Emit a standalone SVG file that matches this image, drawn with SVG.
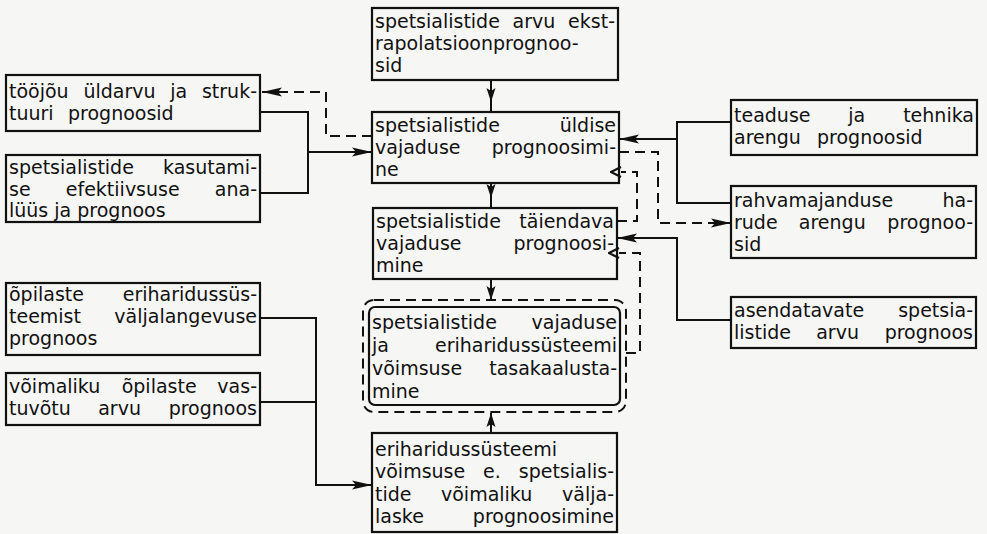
<svg xmlns="http://www.w3.org/2000/svg" width="987" height="534" viewBox="0 0 987 534">
<defs>
<style>
.bx{fill:none;stroke:#111;stroke-width:2.2}
.t{font-family:"DejaVu Sans","Liberation Sans",sans-serif;font-size:19px;fill:#111}
.e{text-anchor:end}
.c{fill:none;stroke:#111;stroke-width:2}
.d{fill:none;stroke:#111;stroke-width:2;stroke-dasharray:10 6}
</style>
<marker id="ar" viewBox="0 0 20 10" refX="20" refY="5" markerWidth="20" markerHeight="10" markerUnits="userSpaceOnUse" orient="auto">
<path d="M0,0.5 L20,5 L0,9.5 L4,5 Z" fill="#111"/>
</marker>
<marker id="am" viewBox="0 0 14 10" refX="14" refY="5" markerWidth="14" markerHeight="10" markerUnits="userSpaceOnUse" orient="auto">
<path d="M0,0.5 L14,5 L0,9.5 L3,5 Z" fill="#111"/>
</marker>
<marker id="op" viewBox="0 0 12 12" refX="1" refY="6" markerWidth="12" markerHeight="12" markerUnits="userSpaceOnUse" orient="auto">
<path d="M1,1 L11,6 L1,11" fill="none" stroke="#111" stroke-width="2.2"/>
</marker>
</defs>
<rect width="987" height="534" fill="#f6f6f4"/>

<g id="connectors">
<path class="c" d="M491,80 V102 V112" marker-mid="url(#am)"/>
<path class="c" d="M491,183 V198 V208" marker-mid="url(#am)"/>
<path class="c" d="M491,279 V300" marker-end="url(#am)"/>
<path class="c" d="M491,433 V413" marker-end="url(#am)"/>
<path class="c" d="M260,112 H308 V193 H260"/>
<path class="c" d="M308,152 H372" marker-end="url(#ar)"/>
<path class="c" d="M260,318 H316 V485 H372" marker-end="url(#ar)"/>
<path class="c" d="M260,402 H316"/>
<path class="c" d="M731,122 H677 V203 H731"/>
<path class="c" d="M677,139 H619" marker-end="url(#ar)"/>
<path class="c" d="M731,320 H677 V238 H617" marker-end="url(#ar)"/>
<path class="d" d="M372,136 H326 V92 H262" marker-end="url(#ar)"/>
<path class="d" d="M619,152 H658 V223 H731" marker-end="url(#ar)"/>
<path class="d" d="M617,221 H637 V172 H621" marker-end="url(#op)"/>
<path class="d" d="M626,353 H640 V253 H619" marker-end="url(#op)"/>
</g>

<g id="n-extrapol">
<rect class="bx" x="372" y="8" width="246" height="72"/>
<text class="t"><tspan x="375" y="28">spetsialistide</tspan><tspan x="512.6" y="28">arvu</tspan><tspan class="e" x="615" y="28">ekst-</tspan><tspan x="375" y="50">rapolatsioonprognoo-</tspan><tspan x="375" y="72">sid</tspan></text>
</g>

<g id="n-yldine">
<rect class="bx" x="372" y="112" width="247" height="71"/>
<text class="t"><tspan x="375" y="132">spetsialistide</tspan><tspan class="e" x="616" y="132">üldise</tspan><tspan x="375" y="154">vajaduse</tspan><tspan class="e" x="616" y="154">prognoosimi-</tspan><tspan x="375" y="176">ne</tspan></text>
</g>

<g id="n-taiendav">
<rect class="bx" x="373" y="208" width="244" height="71"/>
<text class="t"><tspan x="376" y="228">spetsialistide</tspan><tspan class="e" x="614" y="228">täiendava</tspan><tspan x="376" y="250">vajaduse</tspan><tspan class="e" x="614" y="250">prognoosi-</tspan><tspan x="376" y="272">mine</tspan></text>
</g>

<g id="n-tasakaal">
<rect class="d" x="363" y="300" width="263" height="112" rx="11"/>
<rect class="bx" x="369" y="307" width="251" height="98" rx="6"/>
<text class="t"><tspan x="372" y="329">spetsialistide</tspan><tspan class="e" x="617" y="329">vajaduse</tspan><tspan x="372" y="352">ja</tspan><tspan class="e" x="617" y="352">eriharidussüsteemi</tspan><tspan x="372" y="375">võimsuse</tspan><tspan class="e" x="617" y="375">tasakaalusta-</tspan><tspan x="372" y="398">mine</tspan></text>
</g>

<g id="n-valjalase">
<rect class="bx" x="372" y="433" width="245" height="99"/>
<text class="t"><tspan x="375" y="456">eriharidussüsteemi</tspan><tspan x="375" y="478">võimsuse</tspan><tspan x="483" y="478">e.</tspan><tspan class="e" x="614" y="478">spetsialis-</tspan><tspan x="375" y="501">tide</tspan><tspan x="441" y="501">võimaliku</tspan><tspan class="e" x="614" y="501">välja-</tspan><tspan x="375" y="523">laske</tspan><tspan class="e" x="614" y="523">prognoosimine</tspan></text>
</g>

<g id="n-toojoud">
<rect class="bx" x="6" y="75" width="254" height="56"/>
<text class="t"><tspan x="9" y="98">tööjõu</tspan><tspan x="83.4" y="98">üldarvu</tspan><tspan x="170.2" y="98">ja</tspan><tspan class="e" x="257" y="98">struk-</tspan><tspan x="9" y="120">tuuri</tspan><tspan x="68" y="120">prognoosid</tspan></text>
</g>

<g id="n-efektiivsus">
<rect class="bx" x="6" y="155" width="254" height="67"/>
<text class="t"><tspan x="9" y="174">spetsialistide</tspan><tspan class="e" x="257" y="174">kasutami-</tspan><tspan x="9" y="196">se</tspan><tspan x="65.8" y="196">efektiivsuse</tspan><tspan class="e" x="257" y="196">ana-</tspan><tspan x="9" y="217">lüüs ja prognoos</tspan></text>
</g>

<g id="n-valjalangevus">
<rect class="bx" x="6" y="283" width="254" height="72"/>
<text class="t"><tspan x="9" y="301">õpilaste</tspan><tspan class="e" x="257" y="301">eriharidussüs-</tspan><tspan x="9" y="323">teemist</tspan><tspan class="e" x="257" y="323">väljalangevuse</tspan><tspan x="9" y="345">prognoos</tspan></text>
</g>

<g id="n-vastuvott">
<rect class="bx" x="6" y="373" width="254" height="52"/>
<text class="t"><tspan x="9" y="393">võimaliku</tspan><tspan x="121.7" y="393">õpilaste</tspan><tspan class="e" x="257" y="393">vas-</tspan><tspan x="9" y="415">tuvõtu</tspan><tspan x="98.2" y="415">arvu</tspan><tspan class="e" x="257" y="415">prognoos</tspan></text>
</g>

<g id="n-teadus">
<rect class="bx" x="731" y="100" width="246" height="55"/>
<text class="t"><tspan x="734" y="122">teaduse</tspan><tspan x="848.2" y="122">ja</tspan><tspan class="e" x="974" y="122">tehnika</tspan><tspan x="734" y="144">arengu</tspan><tspan x="817" y="144">prognoosid</tspan></text>
</g>

<g id="n-rahvamajandus">
<rect class="bx" x="731" y="186" width="245" height="72"/>
<text class="t"><tspan x="734" y="207">rahvamajanduse</tspan><tspan class="e" x="973" y="207">ha-</tspan><tspan x="734" y="229">rude</tspan><tspan x="798.8" y="229">arengu</tspan><tspan class="e" x="973" y="229">prognoo-</tspan><tspan x="734" y="251">sid</tspan></text>
</g>

<g id="n-asendatavad">
<rect class="bx" x="731" y="297" width="245" height="51"/>
<text class="t"><tspan x="734" y="317">asendatavate</tspan><tspan class="e" x="973" y="317">spetsia-</tspan><tspan x="734" y="339">listide</tspan><tspan x="816.2" y="339">arvu</tspan><tspan class="e" x="973" y="339">prognoos</tspan></text>
</g>
</svg>
